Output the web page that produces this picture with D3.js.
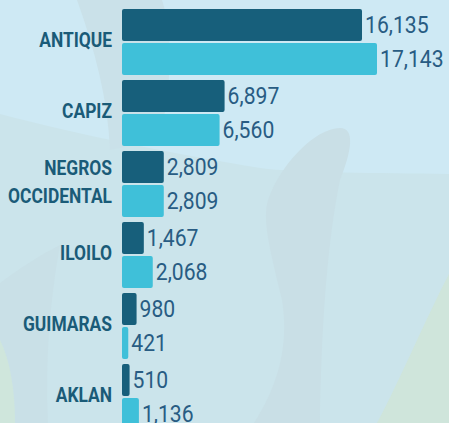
<!DOCTYPE html>
<html>
<head>
<meta charset="utf-8">
<script src="https://cdn.jsdelivr.net/npm/d3@7"></script>
<style>
  body { margin: 0; background: #cbe4eb; }
  svg { display: block; }
</style>
</head>
<body>
<script>
var provinces = ['ANTIQUE', 'CAPIZ', 'NEGROS OCCIDENTAL', 'ILOILO', 'GUIMARAS', 'AKLAN'];
var seriesNames = ['Series 1', 'Series 2'];
var series1 = [16135, 6897, 2809, 1467, 980, 510];
var series2 = [17143, 6560, 2809, 2068, 421, 1136];

var width = 449,
  height = 423;

var colors = ['#175f7b', '#3fc0d9'];

var svg = d3.select('body').append('svg')
  .attr('width', width)
  .attr('height', height);

// decorative background
var bg = svg.append('g');
bg.append('rect').attr('width', width).attr('height', height).attr('fill', '#cbe4eb');
bg.append('path')
  .attr('d', 'M0,0 H449 V174 C380,173 300,173 260,168 C180,155 80,135 0,114 Z')
  .attr('fill', '#cee9f4');
bg.append('path')
  .attr('d', 'M77,0 H162 C175,40 170,90 160,140 L110,150 C108,100 95,50 77,0 Z')
  .attr('fill', '#cae1e9');
bg.append('path')
  .attr('d', 'M340,128 C355,128 352,150 340,180 C330,230 322,300 320,423 H254 C275,390 290,350 282,300 C270,250 262,220 268,200 C280,165 315,128 340,128 Z')
  .attr('fill', '#c9dfe6');
bg.append('path')
  .attr('d', 'M0,283 C20,268 40,255 60,245 C50,300 45,360 48,423 H0 Z')
  .attr('fill', '#c9e0e7');
bg.append('path')
  .attr('d', 'M0,340 C10,360 15,390 15,423 H0 Z')
  .attr('fill', '#cfe6dc');
bg.append('path')
  .attr('d', 'M449,274 V423 H377 C400,380 425,320 449,274 Z')
  .attr('fill', '#cfe5db');

var data = provinces.map(function (p, i) {
  return { name: p, values: [series1[i], series2[i]] };
});

var x = d3.scaleLinear()
  .domain([0, d3.max(series2.concat(series1))])
  .range([122, 377]);

var y = d3.scaleBand()
  .domain(provinces)
  .range([9, 430])
  .paddingInner(5 / 71)
  .paddingOuter(0);

var ySub = d3.scaleBand()
  .domain(seriesNames)
  .range([0, y.bandwidth()])
  .paddingInner(2 / 34);

var groups = svg.selectAll('.group')
  .data(data)
  .enter().append('g')
  .attr('class', 'group')
  .attr('transform', function (d) {
    return 'translate(0,' + y(d.name) + ')';
  });

var fmt = d3.format(',');

function items(d) {
  return d.values.map(function (v, i) { return { key: seriesNames[i], value: v, i: i }; });
}

groups.selectAll('rect')
  .data(items)
  .enter().append('rect')
  .attr('x', x(0))
  .attr('y', function (d) { return ySub(d.key); })
  .attr('width', function (d) { return x(d.value) - x(0); })
  .attr('height', ySub.bandwidth())
  .attr('rx', 2)
  .attr('fill', function (d) { return colors[d.i]; });

// value labels, slightly condensed
groups.selectAll('.val')
  .data(items)
  .enter().append('g')
  .attr('class', 'val')
  .attr('transform', function (d) {
    return 'translate(' + (x(d.value) + 3) + ',' + (ySub(d.key) + ySub.bandwidth() / 2) + ') scale(0.92,1)';
  })
  .append('text')
  .attr('dy', '0.33em')
  .style('font-family', 'Roboto, sans-serif')
  .style('font-size', '23px')
  .style('fill', '#285c83')
  .text(function (d) { return fmt(d.value); });

// category labels
groups.append('g')
  .attr('transform', 'translate(112,0) scale(0.87,1)')
  .append('text')
  .attr('text-anchor', 'end')
  .style('font-family', 'Roboto, sans-serif')
  .style('font-weight', 'bold')
  .style('font-size', '20px')
  .style('fill', '#1a5b78')
  .each(function (d) {
    var lines = d.name.split(' ');
    var lh = 28;
    var mid = y.bandwidth() / 2 - 2;
    var start = mid - (lines.length - 1) * lh / 2;
    var t = d3.select(this);
    lines.forEach(function (l, k) {
      t.append('tspan')
        .attr('x', 0)
        .attr('y', start + k * lh)
        .attr('dy', '0.36em')
        .text(l);
    });
  });
</script>
</body>
</html>
